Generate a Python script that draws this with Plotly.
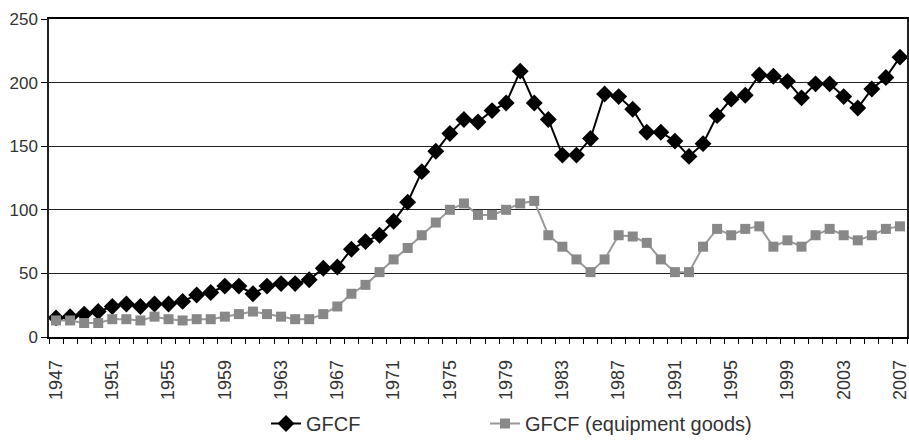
import plotly.graph_objects as go

years = list(range(1947, 2008))
gfcf = [15, 16, 18, 20, 24, 26, 24, 26, 26, 28,
        33, 35, 40, 40, 34, 40, 42, 42, 45, 54,
        55, 69, 75, 80, 91, 106, 130, 146, 160, 171,
        169, 178, 184, 209, 184, 171, 143, 143, 156, 191,
        189, 179, 161, 161, 154, 142, 152, 174, 187, 190,
        206, 205, 201, 188, 199, 199, 189, 180, 195, 204,
        220]
gfcf_equip = [13, 13, 11, 11, 14, 14, 13, 16, 14, 13,
              14, 14, 16, 18, 20, 18, 16, 14, 14, 18,
              24, 34, 41, 51, 61, 70, 80, 90, 100, 105,
              96, 96, 100, 105, 107, 80, 71, 61, 51, 61,
              80, 79, 74, 61, 51, 51, 71, 85, 80, 85,
              87, 71, 76, 71, 80, 85, 80, 76, 80, 85,
              87]
label_years = list(range(1947, 2008, 4))
y_ticks = [0, 50, 100, 150, 200, 250]

fig = go.Figure()
fig.add_trace(go.Scatter(
    x=years, y=gfcf, mode="lines+markers", name="GFCF", legend="legend",
    line=dict(color="#000000", width=2),
    marker=dict(symbol="diamond", size=13, color="#000000"),
))
fig.add_trace(go.Scatter(
    x=years, y=gfcf_equip, mode="lines+markers", name="GFCF (equipment goods)", legend="legend2",
    line=dict(color="#999999", width=2),
    marker=dict(symbol="square", size=10, color="#888888"),
))

legend_font = dict(family="Liberation Sans, Arial, sans-serif", size=20, color="#333333")
fig.update_layout(
    width=909, height=443,
    margin=dict(l=49, r=2, t=19, b=106),
    paper_bgcolor="white", plot_bgcolor="white",
    font=dict(family="Liberation Sans, Arial, sans-serif", size=17, color="#333333"),
    showlegend=True,
    legend=dict(orientation="h", x=266 / 909, xanchor="left", xref="container",
                y=-0.025, yanchor="bottom", yref="container",
                font=legend_font, bgcolor="rgba(0,0,0,0)"),
    legend2=dict(orientation="h", x=485 / 909, xanchor="left", xref="container",
                 y=-0.025, yanchor="bottom", yref="container",
                 font=legend_font, bgcolor="rgba(0,0,0,0)"),
    xaxis=dict(
        range=[1946.5, 2007.5], automargin=False,
        tickmode="array", tickvals=label_years, ticktext=[str(y) for y in label_years],
        tickangle=-90, ticks="outside", ticklen=14, tickcolor="rgba(0,0,0,0)",
        ticklabeloverflow="allow",
        showgrid=False, zeroline=False,
        showline=True, linecolor="#000000", linewidth=1.5, mirror=True,
        minor=dict(tick0=1946.5, dtick=1, ticks="outside", ticklen=5, tickcolor="#000000",
                   showgrid=False),
        tickfont=dict(size=18, color="#333333"),
    ),
    yaxis=dict(
        range=[0, 250], tickmode="array", tickvals=y_ticks, automargin=False,
        ticks="outside", ticklen=6, tickcolor="#000000",
        showgrid=True, gridcolor="#222222", gridwidth=1.2, zeroline=False,
        showline=True, linecolor="#222222", linewidth=1.5, mirror=True,
        tickfont=dict(size=17, color="#333333"),
    ),
)

fig.write_html("out.html", config={"displayModeBar": False},
               post_script="document.body.style.margin='0';")
